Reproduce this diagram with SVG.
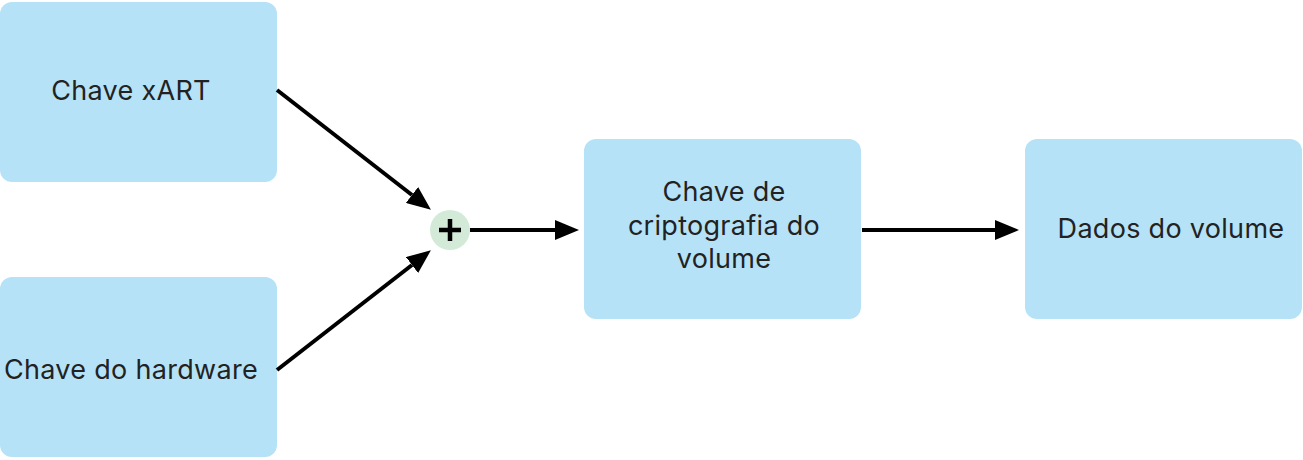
<svg xmlns="http://www.w3.org/2000/svg" width="1303" height="460" viewBox="0 0 1303 460">
<style>
.box{fill:#b6e2f8;}
.lbl{font-family:Inter,"Liberation Sans",sans-serif;font-size:27px;letter-spacing:0.3px;fill:#222222;text-anchor:middle;}
.con{stroke:#000;stroke-width:4;fill:none;marker-end:url(#ah);}
</style>
<defs>
<marker id="ah" markerWidth="6" markerHeight="5" refX="0" refY="2.5" orient="auto" markerUnits="strokeWidth">
<path d="M0,0 L6,2.5 L0,5 Z" fill="#000"/>
</marker>
</defs>
<rect width="1303" height="460" fill="#fff"/>
<g id="node-xart">
<rect class="box" x="0" y="2" width="277" height="180" rx="12"/>
<text class="lbl" x="131" y="100">Chave xART</text>
</g>
<g id="node-hardware">
<rect class="box" x="0" y="277" width="277" height="180" rx="12"/>
<text class="lbl" x="131" y="379">Chave do hardware</text>
</g>
<g id="node-plus">
<circle cx="450" cy="230" r="20" fill="#d3ead8"/>
<path d="M450,219 V241 M439,230 H461" stroke="#000" stroke-width="4.5"/>
</g>
<g id="node-chave-volume">
<rect class="box" x="584" y="139" width="277" height="180" rx="12"/>
<text class="lbl" x="724" y="201">Chave de</text>
<text class="lbl" x="724" y="235">criptografia do</text>
<text class="lbl" x="724" y="268">volume</text>
</g>
<g id="node-dados">
<rect class="box" x="1025" y="139" width="277" height="180" rx="12"/>
<text class="lbl" x="1171" y="238">Dados do volume</text>
</g>
<g id="connectors">
<path class="con" d="M277,90 L412,195"/>
<path class="con" d="M277,370 L412,265"/>
<path class="con" d="M470,230 L555,230"/>
<path class="con" d="M862,230 L995,230"/>
</g>
</svg>
